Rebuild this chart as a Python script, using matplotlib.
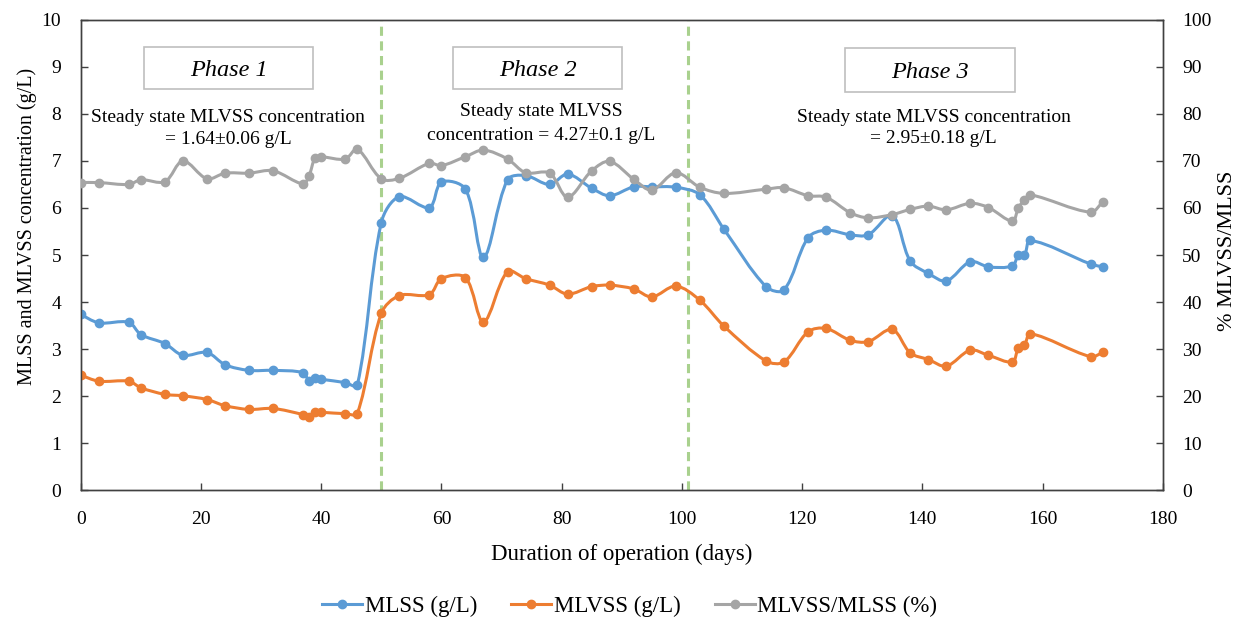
import numpy as np
import matplotlib
matplotlib.use("Agg")
import matplotlib.pyplot as plt
from matplotlib.path import Path
from matplotlib.patches import PathPatch, Rectangle
from matplotlib.lines import Line2D

plt.rcParams['font.family'] = ['Liberation Serif', 'DejaVu Serif']

# sampling days and measured values
days = [0, 3, 8, 10, 14, 17, 21, 24, 28, 32, 37, 38, 39, 40, 44, 46, 50,
        53, 58, 60, 64, 67, 71, 74, 78, 81, 85, 88, 92, 95, 99, 103,
        107, 114, 117, 121, 124, 128, 131, 135, 138, 141, 144, 148, 151,
        155, 156, 157, 158, 168, 170]
mlss = [3.74, 3.56, 3.57, 3.31, 3.12, 2.87, 2.93, 2.67, 2.55, 2.55, 2.50,
        2.33, 2.38, 2.36, 2.29, 2.23, 5.69,
        6.24, 6.01, 6.55, 6.40, 4.95, 6.60, 6.69, 6.50, 6.72, 6.42, 6.26,
        6.45, 6.45, 6.44, 6.28,
        5.55, 4.33, 4.26, 5.37, 5.53, 5.43, 5.43, 5.84, 4.87, 4.61, 4.45,
        4.86, 4.75, 4.77, 5.00, 5.00, 5.31, 4.81, 4.75]
mlvss = [2.45, 2.32, 2.32, 2.18, 2.04, 2.01, 1.93, 1.80, 1.72, 1.74, 1.61,
         1.56, 1.67, 1.66, 1.63, 1.63, 3.76,
         4.14, 4.16, 4.50, 4.52, 3.58, 4.65, 4.50, 4.36, 4.17, 4.33, 4.36,
         4.28, 4.11, 4.34, 4.04,
         3.49, 2.75, 2.73, 3.37, 3.44, 3.19, 3.16, 3.42, 2.92, 2.78, 2.64,
         2.98, 2.87, 2.73, 3.03, 3.09, 3.33, 2.84, 2.93]
ratio = [65.4, 65.4, 65.0, 66.0, 65.6, 70.0, 66.2, 67.4, 67.4, 67.9, 65.1,
         66.9, 70.7, 70.9, 70.4, 72.5, 66.2,
         66.3, 69.5, 69.0, 70.9, 72.3, 70.4, 67.5, 67.4, 62.3, 67.9, 69.9,
         66.1, 63.8, 67.5, 64.4,
         63.1, 64.0, 64.3, 62.6, 62.3, 59.0, 57.9, 58.6, 59.7, 60.4, 59.6,
         61.0, 60.1, 57.2, 60.1, 61.7, 62.8, 59.1, 61.3]

phase_bounds = [50, 101]
phase_names = ['Phase 1', 'Phase 2', 'Phase 3']
steady_notes = [('Steady state MLVSS concentration', '= 1.64\u00b10.06 g/L'),
                ('Steady state MLVSS', 'concentration = 4.27\u00b10.1 g/L'),
                ('Steady state MLVSS concentration', '= 2.95\u00b10.18 g/L')]

BLUE, ORANGE, GREY = '#5B9BD5', '#ED7D31', '#A5A5A5'
SPINE = '#404040'


def smooth_path(ax, x, y):
    """Bezier curve through the points, tangents weighted by segment length
    (close to Excel's smoothed line)."""
    pts = np.column_stack([x, y]).astype(float)
    # lengths are measured in screen units so both axes count equally
    scr = ax.transData.transform(pts)
    n = len(pts)
    seg = np.hypot(*np.diff(scr, axis=0).T)
    verts = [pts[0]]
    codes = [Path.MOVETO]
    for i in range(n - 1):
        p0 = pts[max(i - 1, 0)]
        p1 = pts[i]
        p2 = pts[i + 1]
        p3 = pts[min(i + 2, n - 1)]
        d01 = seg[i - 1] if i > 0 else seg[i]
        d12 = seg[i]
        d23 = seg[i + 1] if i < n - 2 else seg[i]
        c1 = p1 + (p2 - p0) * d12 / (d01 + d12) / 3
        c2 = p2 - (p3 - p1) * d12 / (d12 + d23) / 3
        verts += [c1, c2, p2]
        codes += [Path.CURVE4] * 3
    return Path(verts, codes)


def draw_series(ax, x, y, color):
    ax.add_patch(PathPatch(smooth_path(ax, x, y), fill=False, edgecolor=color,
                           lw=2.2, capstyle='round', joinstyle='round', zorder=3))
    ax.plot(x, y, 'o', color=color, ms=6, zorder=4)


fig = plt.figure(figsize=(12.52, 6.18), dpi=100)
ax = fig.add_axes([0.0645, 0.2065, 0.8642, 0.7616])
ax2 = ax.twinx()

ax.set_xlim(0, 180)
ax.set_ylim(0, 10)
ax2.set_ylim(0, 100)

for d in phase_bounds:
    ax.axvline(d, color='#A9D18E', lw=2.2, dashes=(3, 1.8), zorder=1)

draw_series(ax, days, mlss, BLUE)
draw_series(ax, days, mlvss, ORANGE)
draw_series(ax2, days, ratio, GREY)

ax.set_xticks(np.arange(0, 181, 20))
ax.set_yticks(np.arange(0, 11, 1))
ax2.set_yticks(np.arange(0, 101, 10))

for a in (ax, ax2):
    for s in a.spines.values():
        s.set_color(SPINE)
        s.set_linewidth(1.0)
ax.tick_params(axis='x', direction='in', length=5, width=1, color=SPINE,
               labelsize=14, pad=15)
ax.tick_params(axis='y', direction='in', length=5, width=1, color=SPINE,
               labelsize=14, pad=14)
ax2.tick_params(axis='y', direction='in', length=5, width=1, color=SPINE,
                labelsize=14, pad=14)

ax.set_xlabel('Duration of operation (days)', fontsize=16.5)
ax.xaxis.set_label_coords(0.5, -0.114)
ax.set_ylabel('MLSS and MLVSS concentration (g/L)', fontsize=14.5)
ax.yaxis.set_label_coords(-0.040, 0.56)
ax2.set_ylabel('% MLVSS/MLSS', fontsize=16)
ax2.yaxis.set_label_coords(1.051, 0.51)

# phase title boxes
boxes = [(10.5, 38.7, 8.53, 9.42), (62.0, 90.0, 8.53, 9.42), (127.2, 155.4, 8.46, 9.40)]
for (x0, x1, y0, y1), name in zip(boxes, phase_names):
    ax.add_patch(Rectangle((x0, y0), x1 - x0, y1 - y0, facecolor='white',
                           edgecolor='#BFBFBF', lw=1.2, zorder=5))
    ax.text((x0 + x1) / 2, (y0 + y1) / 2 - 0.05, name, ha='center', va='center',
            fontsize=17.5, style='italic', zorder=6)

note_pos = [(24.5, 7.93, 7.45), (76.6, 8.06, 7.55), (141.9, 7.93, 7.48)]
for (xc, ya, yb), (l1, l2) in zip(note_pos, steady_notes):
    ax.text(xc, ya, l1, ha='center', va='center', fontsize=14, zorder=6)
    ax.text(xc, yb, l2, ha='center', va='center', fontsize=14, zorder=6)

handles = [Line2D([], [], color=c, lw=2.2, marker='o', ms=6)
           for c in (BLUE, ORANGE, GREY)]
fig.legend(handles, ['MLSS (g/L)', 'MLVSS (g/L)', 'MLVSS/MLSS (%)'],
           loc='center', bbox_to_anchor=(0.503, 0.019), ncol=3, frameon=False,
           fontsize=16.5, handlelength=1.75, handletextpad=0.1, columnspacing=1.5)

fig.savefig('out.png', dpi=100, facecolor='white')
